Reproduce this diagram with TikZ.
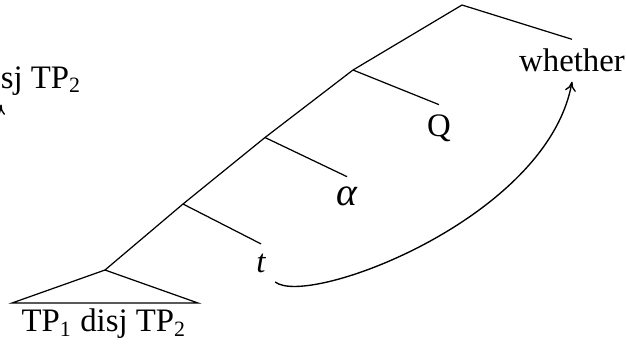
\documentclass[tikz,border=0pt]{standalone}
\usepackage{fontspec}
\setmainfont{Liberation Serif}
\usetikzlibrary{arrows.meta}

\begin{document}
\begin{tikzpicture}[
  x=0.366pt, y=-0.366pt,
  font=\fontsize{12}{14}\selectfont,
  leaf/.style={anchor=base},
  edge/.style={line width=0.45pt},
  move/.style={-{To[length=3.5pt, width=4pt]}, line width=0.5pt}
]
\clip (0,0) rectangle (626,345);

\coordinate (root) at (462,5);
\coordinate (cq) at (353,70);
\coordinate (calpha) at (265,137.5);
\coordinate (ct) at (183,204);
\coordinate (tp) at (105,270);
\coordinate (tril) at (12,303);
\coordinate (trir) at (198,303);

\node[leaf] (whether) at (572,71.7) {whether};
\node[leaf] (q) at (439,136) {Q};
\node[leaf, font=\fontsize{14.5}{16}\selectfont\itshape] (alpha) at (347,205) {α};
\node[leaf] (t) at (261,272) {\itshape t};
\node[leaf] (disj) at (104,331.5) {TP\textsubscript{1} disj TP\textsubscript{2}};
\node[leaf] (disjl) at (-1,88) {TP\textsubscript{1} disj TP\textsubscript{2}};
\coordinate (movel) at (-4,124);

\draw[edge] (root) -- (whether.north);
\draw[edge] (root) -- (cq) -- (calpha) -- (ct) -- (tp);
\draw[edge] (cq) -- (q.north);
\draw[edge] (calpha) -- (alpha.north);
\draw[edge] (ct) -- (t.north);
\draw[edge] (tp) -- (tril) -- (trir) -- cycle;

\draw[move] (t.south east) .. controls (308,308) and (548,218) .. (whether.south);
\draw[move] (movel) to[out=70, in=-100] ([xshift=0.8pt]disjl.south);
\end{tikzpicture}
\end{document}
